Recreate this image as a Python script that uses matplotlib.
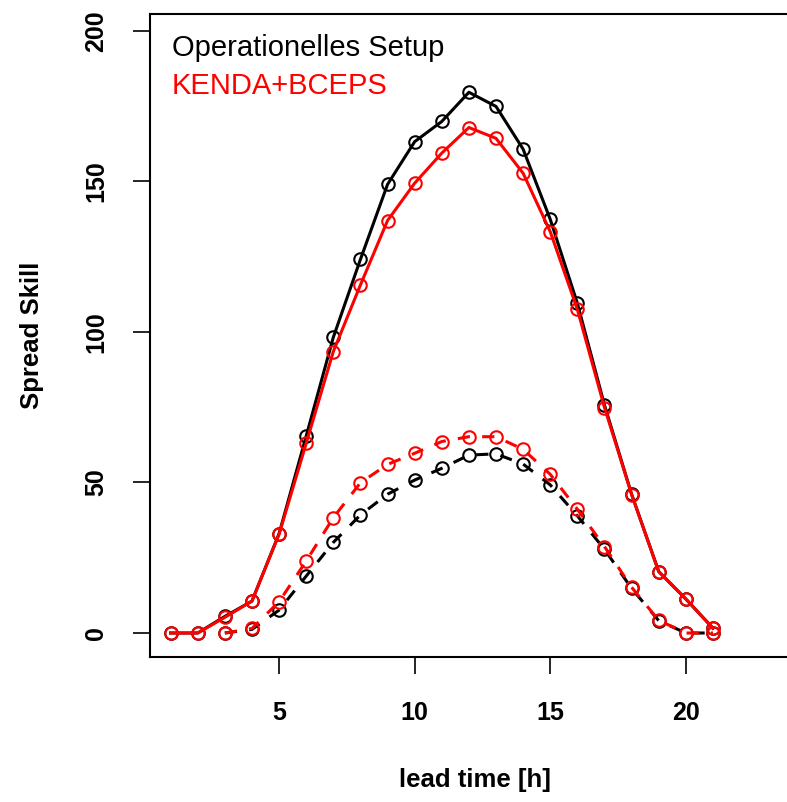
import numpy as np
import matplotlib
matplotlib.use("Agg")
import matplotlib.pyplot as plt

plt.rcParams["font.family"] = ["Liberation Sans", "DejaVu Sans"]

lead = np.arange(1, 22)
# solid lines
oper_solid = [0, 0, 5.5, 10.6, 33.0, 65.4, 98.2, 124.1, 149.0, 163.2, 169.9,
              179.6, 174.9, 160.7, 137.4, 109.5, 75.7, 46.1, 20.4, 11.3, 1.6]
kenda_solid = [0, 0, 5.2, 10.6, 32.8, 63.0, 93.5, 115.6, 137.0, 149.4, 159.4,
               167.9, 164.3, 152.7, 133.3, 107.5, 74.9, 46.0, 20.4, 11.3, 1.6]
# dashed lines (no values for the first two lead times)
oper_dash = [np.nan, np.nan, 0, 1.2, 7.6, 18.9, 30.1, 39.2, 46.1, 50.8, 54.7,
             59.1, 59.5, 56.1, 49.2, 38.9, 27.8, 14.8, 4.1, 0, 0]
kenda_dash = [np.nan, np.nan, 0, 1.5, 10.4, 23.9, 38.3, 49.9, 56.0, 59.7, 63.6,
              65.2, 65.2, 61.0, 52.7, 41.1, 28.7, 15.2, 4.2, 0, 0]

fig = plt.figure(figsize=(7.87, 8.02), dpi=100)
ax = fig.add_axes([150/787, 145/802, 650/787, 643/802])

mk = dict(marker="o", markersize=9, markerfacecolor="none", markeredgewidth=1.5)
ax.plot(lead, oper_solid, color="black", lw=2.2, **mk)
ax.plot(lead, oper_dash, color="black", lw=2.2, dashes=(4, 4), **mk)
ax.plot(lead, kenda_solid, color="red", lw=2.2, **mk)
ax.plot(lead, kenda_dash, color="red", lw=2.2, dashes=(4, 4), **mk)

ax.set_xlim(0.24, 24.21)
ax.set_ylim(-7.97, 205.6)
ax.set_xticks([5, 10, 15, 20])
ax.set_yticks([0, 50, 100, 150, 200])
ax.tick_params(length=12, width=1.2, direction="out", labelsize=18)
ax.tick_params(axis="x", pad=20)
ax.tick_params(axis="y", pad=18)
for lab in ax.get_xticklabels() + ax.get_yticklabels():
    lab.set_fontweight("bold")
for lab in ax.get_yticklabels():
    lab.set_rotation(90)
    lab.set_va("center")
for s in ax.spines.values():
    s.set_linewidth(1.5)

ax.set_xlabel("lead time [h]", fontsize=18.5, fontweight="bold", labelpad=31)
ax.set_ylabel("Spread Skill", fontsize=18.5, fontweight="bold", labelpad=29)

ax.text(22/650, 1 - 34/643, "Operationelles Setup", transform=ax.transAxes,
        fontsize=21, color="black", va="center", ha="left")
ax.text(22/650, 1 - 72/643, "KENDA+BCEPS", transform=ax.transAxes,
        fontsize=21, color="red", va="center", ha="left")

fig.savefig("out.png", dpi=100)
